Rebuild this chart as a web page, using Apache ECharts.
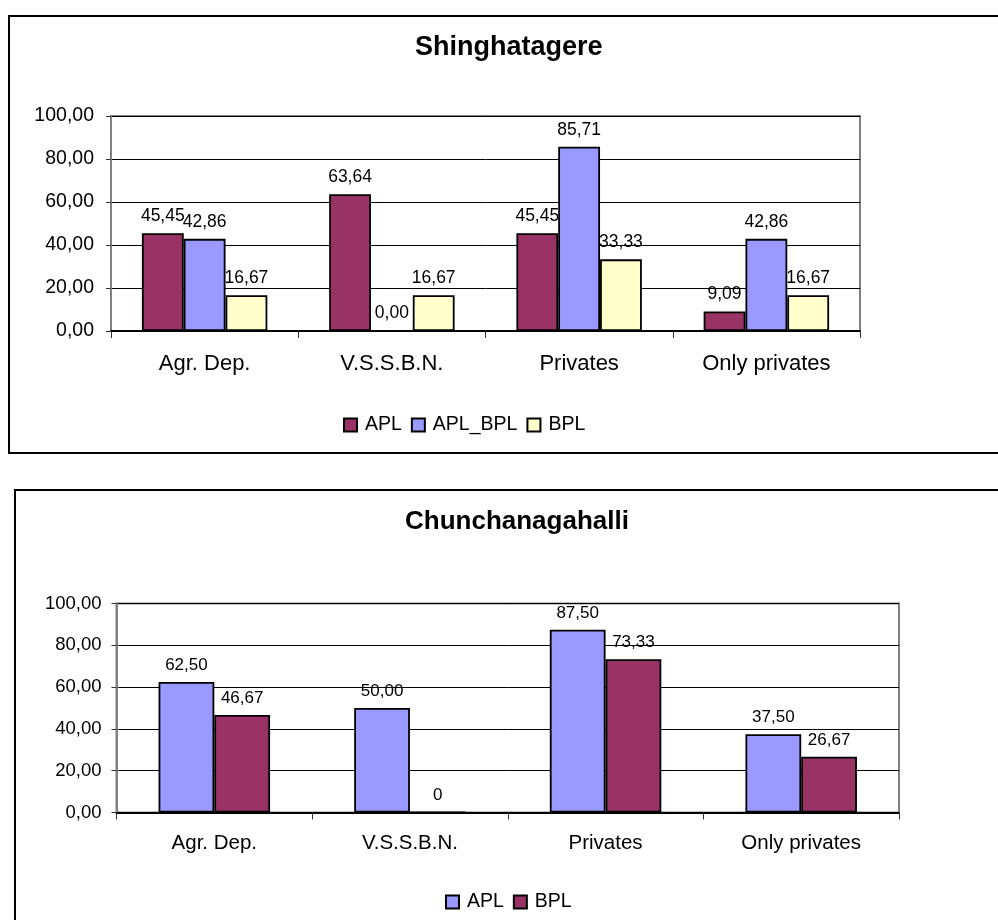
<!DOCTYPE html>
<html>
<head>
<meta charset="utf-8">
<script src="https://cdn.jsdelivr.net/npm/echarts@6/dist/echarts.min.js"></script>
<style>
  html, body { margin: 0; padding: 0; width: 998px; height: 920px; overflow: hidden; background: #fff; }
  .box { position: absolute; box-sizing: border-box; border: 2px solid #000; }
  #box1 { left: 8px; top: 15px; width: 1010px; height: 439px; }
  #box2 { left: 14px; top: 489px; width: 1010px; height: 460px; }
  .chart { position: absolute; left: 0; width: 998px; }
  #c1 { top: 0; height: 470px; }
  #c2 { top: 470px; height: 450px; }
</style>
</head>
<body>
<div id="box1" class="box"></div>
<div id="box2" class="box"></div>
<div id="c1" class="chart"></div>
<div id="c2" class="chart"></div>
<script>
// ---- Data ----
const categories = ['Agr. Dep.', 'V.S.S.B.N.', 'Privates', 'Only privates'];
const yTicks = [0, 20, 40, 60, 80, 100];

const title1 = 'Shinghatagere';
const s1_APL = [45.45, 63.64, 45.45, 9.09];
const s1_APL_BPL = [42.86, 0.00, 85.71, 42.86];
const s1_BPL = [16.67, 16.67, 33.33, 16.67];

const title2 = 'Chunchanagahalli';
const s2_APL = [62.50, 50.00, 87.50, 37.50];
const s2_BPL = [46.67, 0, 73.33, 26.67];

// ---- Styles ----
const MAROON = '#993366', LAVENDER = '#9999FF', CREAM = '#FFFFCC';
const FONT = '"Liberation Sans", Arial, sans-serif';
const fmt = v => Number(v).toFixed(2).replace('.', ',');

function makeOption(cfg) {
  return {
    animation: false,
    textStyle: { fontFamily: FONT },
    title: {
      text: cfg.title, left: cfg.titleLeft, top: cfg.titleTop, padding: 0,
      textStyle: { fontFamily: FONT, fontSize: cfg.titleFont, fontWeight: 'bold', color: '#000' }
    },
    legend: {
      left: cfg.legendLeft, top: cfg.legendTop, padding: 0,
      icon: 'rect', itemWidth: 13, itemHeight: 13, itemGap: 9,
      textStyle: { fontFamily: FONT, fontSize: cfg.legendFont, color: '#000', padding: [0, 0, 0, 3] },
      data: cfg.series.map(s => s.name)
    },
    grid: {
      left: cfg.grid.left, top: cfg.grid.top, width: cfg.grid.width, height: cfg.grid.height,
      show: true, borderColor: '#808080', borderWidth: 2, backgroundColor: '#fff'
    },
    xAxis: {
      type: 'category', data: categories,
      axisLine: { show: true, lineStyle: { color: '#000', width: 2 } },
      axisTick: { show: true, alignWithLabel: false, length: 7, lineStyle: { color: '#333' } },
      axisLabel: { fontFamily: FONT, fontSize: cfg.catFont, color: '#000', margin: cfg.catMargin }
    },
    yAxis: {
      type: 'value', min: yTicks[0], max: yTicks[yTicks.length - 1], interval: 20,
      axisLine: { show: true, lineStyle: { color: '#808080', width: 2 } },
      axisTick: { show: true, inside: false, length: 5, lineStyle: { color: '#333' } },
      splitLine: { show: true, lineStyle: { color: '#000', width: 1 } },
      axisLabel: { fontFamily: FONT, fontSize: cfg.yFont, color: '#000', margin: cfg.yMargin, formatter: fmt }
    },
    series: cfg.series.map(s => ({
      name: s.name, type: 'bar', data: s.data,
      barGap: 0, barCategoryGap: cfg.catGap,
      itemStyle: { color: s.color, borderColor: '#000', borderWidth: 1.8 },
      label: {
        show: true, position: 'top', distance: 8,
        fontFamily: FONT, fontSize: cfg.labelFont, color: '#000',
        formatter: p => (cfg.zeroPlain && p.value === 0) ? '0' : fmt(p.value)
      }
    }))
  };
}

const chart1 = echarts.init(document.getElementById('c1'));
chart1.setOption(makeOption({
  title: title1, titleLeft: 415, titleTop: 34, titleFont: 27,
  legendLeft: 343, legendTop: 415, legendFont: 19.5,
  grid: { left: 111, top: 116, width: 749, height: 215 },
  yFont: 19.5, yMargin: 17,
  catFont: 22, catMargin: 22, catGap: '33%', labelFont: 17.5, zeroPlain: false,
  series: [
    { name: 'APL', data: s1_APL, color: MAROON },
    { name: 'APL_BPL', data: s1_APL_BPL, color: LAVENDER },
    { name: 'BPL', data: s1_BPL, color: CREAM }
  ]
}));

const chart2 = echarts.init(document.getElementById('c2'));
chart2.setOption(makeOption({
  title: title2, titleLeft: 405, titleTop: 39, titleFont: 26,
  legendLeft: 445, legendTop: 422, legendFont: 19.5,
  grid: { left: 116.5, top: 133.5, width: 782.5, height: 209 },
  yFont: 18.5, yMargin: 15,
  catFont: 20.5, catMargin: 20, catGap: '43%', labelFont: 17, zeroPlain: true,
  series: [
    { name: 'APL', data: s2_APL, color: LAVENDER },
    { name: 'BPL', data: s2_BPL, color: MAROON }
  ]
}));
</script>
</body>
</html>
